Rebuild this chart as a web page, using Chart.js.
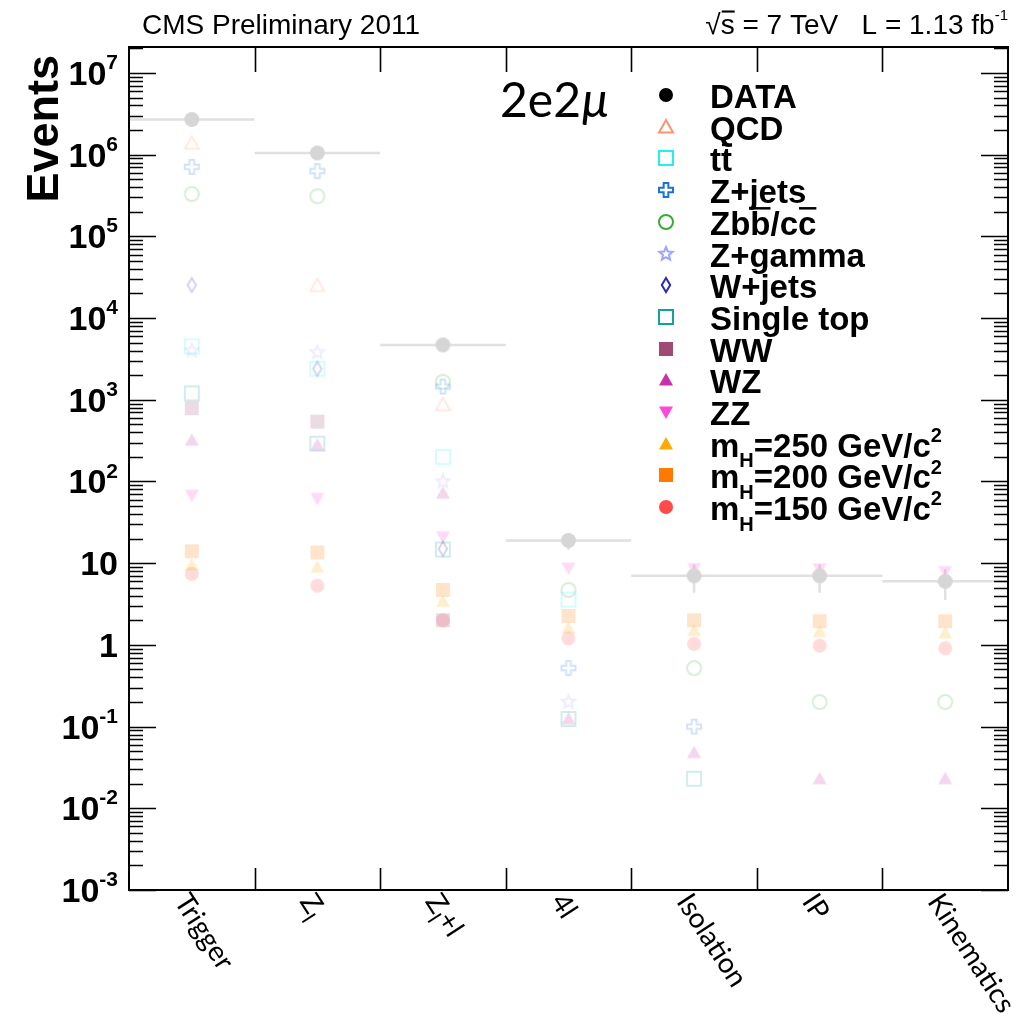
<!DOCTYPE html>
<html>
<head>
<meta charset="utf-8">
<script src="https://cdn.jsdelivr.net/npm/chart.js@4.4.1/dist/chart.umd.min.js"></script>
<style>
  html, body { margin: 0; padding: 0; background: #fff; }
  canvas { display: block; }
</style>
</head>
<body>
<canvas id="chart" width="1026" height="1026"></canvas>
<script>
// ------- Data -------
const categories = ['Trigger', 'Z_{l}', 'Z_{l}+l', '4l', 'Isolation', 'IP', 'Kinematics'];

const dataValues      = [2.7e6, 1.05e6, 4.7e3, 19, 7, 7, 6];
const qcdValues       = [1.38e6, 2.5e4, 870, null, null, null, null];
const ttbarValues     = [4.5e3, 2.4e3, 200, 3.6, null, null, null];
const zjetsValues     = [7.1e5, 6.3e5, 1.45e3, 0.52, 0.1, null, null];
const zbbValues       = [3.3e5, 3.1e5, 1.66e3, 4.7, 0.52, 0.2, 0.2];
const zgammaValues    = [4.0e3, 3.8e3, 100, 0.2, null, null, null];
const wjetsValues     = [2.54e4, 2.4e3, 15, null, null, null, null];
const singleTopValues = [1.2e3, 290, 14.7, 0.124, 0.023, null, null];
const wwValues        = [790, 540, 2.0, null, null, null, null];
const wzValues        = [320, 280, 72, 0.124, 0.048, 0.023, 0.023];
const zzValues        = [68, 62, 21, 8.7, 8.6, 8.5, 7.9];
const mh250Values     = [9.5, 8.9, 3.4, 1.6, 1.5, 1.45, 1.4];
const mh200Values     = [14, 13.5, 4.7, 2.26, 2.0, 1.95, 1.95];
const mh150Values     = [7.4, 5.3, 2.0, 1.2, 1.03, 0.98, 0.91];

const mcNames = ['QCD', 't~{t}', 'Z+jets', 'Zb~{b}/c~{c}', 'Z+gamma', 'W+jets', 'Single top',
  'WW', 'WZ', 'ZZ', 'm_{H}=250 GeV/c^{2}', 'm_{H}=200 GeV/c^{2}', 'm_{H}=150 GeV/c^{2}'];
const mcValues = [qcdValues, ttbarValues, zjetsValues, zbbValues, zgammaValues, wjetsValues,
  singleTopValues, wwValues, wzValues, zzValues, mh250Values, mh200Values, mh150Values];

const yTickValues = [1e-3, 1e-2, 1e-1, 1, 10, 1e2, 1e3, 1e4, 1e5, 1e6, 1e7];
const yTickLabels = ['10^{-3}', '10^{-2}', '10^{-1}', '1', '10', '10^{2}', '10^{3}', '10^{4}', '10^{5}', '10^{6}', '10^{7}'];

// ------- Styles -------
const mcStyles = [
  { shape: 'triangle', color: '#ff9270', filled: false },
  { shape: 'square', color: '#22f0f0', filled: false },
  { shape: 'cross', color: '#1a72dc', filled: false },
  { shape: 'circle', color: '#3aa83a', filled: false },
  { shape: 'star', color: '#a0a6ff', filled: false },
  { shape: 'diamond', color: '#2a2ab4', filled: false },
  { shape: 'square', color: '#14a0a0', filled: false },
  { shape: 'square', color: '#a04a74', filled: true },
  { shape: 'triangle', color: '#c832a8', filled: true },
  { shape: 'triangleDown', color: '#ff48d8', filled: true },
  { shape: 'triangle', color: '#ffaa00', filled: true },
  { shape: 'square', color: '#ff7a00', filled: true },
  { shape: 'circle', color: '#ff4a4a', filled: true }
];
const FADE = 0.2;
const DATA_GREY = '#d6d6d6';
const SANS = '"Liberation Sans", Arial, sans-serif';
const LABEL_FONT = 'Lato, "Open Sans", sans-serif';

function rgba(hex, a) {
  const n = parseInt(hex.slice(1), 16);
  return `rgba(${n >> 16},${(n >> 8) & 255},${n & 255},${a})`;
}

function traceShape(ctx, shape, m, r) {
  ctx.beginPath();
  if (shape === 'circle') {
    ctx.arc(m, m, r, 0, Math.PI * 2);
  } else if (shape === 'square') {
    ctx.rect(m - r, m - r, r * 2, r * 2);
  } else if (shape === 'triangle') {
    ctx.moveTo(m, m - r); ctx.lineTo(m + r, m + r * 0.8); ctx.lineTo(m - r, m + r * 0.8); ctx.closePath();
  } else if (shape === 'triangleDown') {
    ctx.moveTo(m, m + r); ctx.lineTo(m + r, m - r * 0.8); ctx.lineTo(m - r, m - r * 0.8); ctx.closePath();
  } else if (shape === 'diamond') {
    ctx.moveTo(m, m - r); ctx.lineTo(m + r * 0.6, m); ctx.lineTo(m, m + r); ctx.lineTo(m - r * 0.6, m); ctx.closePath();
  } else if (shape === 'cross') {
    const a = r / 3;
    const pts = [[-a, -r], [a, -r], [a, -a], [r, -a], [r, a], [a, a], [a, r], [-a, r], [-a, a], [-r, a], [-r, -a], [-a, -a]];
    pts.forEach(([px, py], i) => i ? ctx.lineTo(m + px, m + py) : ctx.moveTo(m + px, m + py));
    ctx.closePath();
  } else if (shape === 'star') {
    for (let i = 0; i < 10; i++) {
      const rr = i % 2 ? r * 0.45 : r;
      const ang = -Math.PI / 2 + i * Math.PI / 5;
      const px = m + rr * Math.cos(ang), py = m + rr * Math.sin(ang);
      i ? ctx.lineTo(px, py) : ctx.moveTo(px, py);
    }
    ctx.closePath();
  }
}

function makeMarker(style, color, size) {
  const c = document.createElement('canvas');
  c.width = c.height = size + 6;
  const ctx = c.getContext('2d');
  const m = c.width / 2;
  ctx.strokeStyle = color;
  ctx.fillStyle = color;
  ctx.lineWidth = 2;
  traceShape(ctx, style.shape, m, style.filled ? size / 2 : size / 2 - 1);
  style.filled ? ctx.fill() : ctx.stroke();
  return c;
}

// ------- Rich text (sub/superscript, overline) -------
function parseRich(str) {
  const out = [];
  let i = 0, buf = '';
  while (i < str.length) {
    const ch = str[i];
    if ((ch === '_' || ch === '^' || ch === '~') && str[i + 1] === '{') {
      if (buf) { out.push({ text: buf, mode: '' }); buf = ''; }
      const end = str.indexOf('}', i);
      out.push({ text: str.slice(i + 2, end), mode: ch });
      i = end + 1;
    } else { buf += ch; i++; }
  }
  if (buf) out.push({ text: buf, mode: '' });
  return out;
}

function drawRich(ctx, str, x, y, o) {
  const parts = parseRich(str);
  const fontOf = p => {
    const small = p.mode === '_' || p.mode === '^';
    return `${o.style || 'normal'} ${o.weight || 'normal'} ${small ? Math.round(o.size * (o.scale || 0.62)) : o.size}px ${o.family}`;
  };
  let total = 0;
  parts.forEach(p => { ctx.font = fontOf(p); p.w = ctx.measureText(p.text).width; total += p.w; });
  if (o.align === 'right') x -= total;
  ctx.textAlign = 'left';
  ctx.textBaseline = 'alphabetic';
  ctx.fillStyle = o.color || '#000';
  parts.forEach(p => {
    ctx.font = fontOf(p);
    let dy = 0;
    if (p.mode === '_') dy = o.size * (o.sub || 0.3);
    if (p.mode === '^') dy = -o.size * (o.sup || 0.45);
    ctx.fillText(p.text, x, y + dy);
    if (p.mode === '~') {
      ctx.fillRect(x + 1, y - o.size * 0.84, p.w - 1, Math.max(2, o.size * 0.075));
    }
    x += p.w;
  });
  return total;
}

// ------- Datasets -------
function toPoints(values) {
  return values.map((v, i) => v == null ? null : { x: i + 0.5, y: v }).filter(Boolean);
}

const dataStyle = { shape: 'circle', filled: true };
const datasets = [{
  label: 'DATA',
  data: toPoints(dataValues),
  pointStyle: makeMarker(dataStyle, DATA_GREY, 15),
  pointRadius: 7
}];
mcValues.forEach((vals, k) => {
  const st = mcStyles[k];
  datasets.push({
    label: mcNames[k],
    data: toPoints(vals),
    pointStyle: makeMarker(st, rgba(st.color, FADE), st.filled ? 14 : 16),
    pointRadius: 7
  });
});

// ------- ROOT-like frame, labels, legend -------
const rootStyle = {
  id: 'rootStyle',
  beforeDatasetsDraw(chart) {
    const { ctx, scales: { x, y } } = chart;
    ctx.save();
    ctx.strokeStyle = '#e0e0e0';
    ctx.lineWidth = 2.5;
    dataValues.forEach((v, i) => {
      const py = y.getPixelForValue(v);
      const err = Math.sqrt(v);
      ctx.beginPath();
      ctx.moveTo(x.getPixelForValue(i), py);
      ctx.lineTo(x.getPixelForValue(i + 1), py);
      ctx.moveTo(x.getPixelForValue(i + 0.5), y.getPixelForValue(v + err));
      ctx.lineTo(x.getPixelForValue(i + 0.5), y.getPixelForValue(Math.max(v - err, 1e-3)));
      ctx.stroke();
    });
    ctx.restore();
  },
  afterDatasetsDraw(chart) {
    const { ctx, chartArea: a, scales: { x, y } } = chart;
    ctx.save();
    ctx.strokeStyle = '#000';
    ctx.lineWidth = 2;
    ctx.strokeRect(a.left, a.top, a.right - a.left, a.bottom - a.top);

    // log ticks on left and right, pointing inward
    ctx.lineWidth = 1.6;
    ctx.beginPath();
    for (let d = -3; d <= 7; d++) {
      for (let k = 1; k <= 9; k++) {
        const v = k * Math.pow(10, d);
        if (v < y.min || v > y.max) continue;
        const py = Math.round(y.getPixelForValue(v)) + 0.5;
        const len = k === 1 ? 27 : 14;
        ctx.moveTo(a.left, py); ctx.lineTo(a.left + len, py);
        ctx.moveTo(a.right, py); ctx.lineTo(a.right - len, py);
      }
    }
    // bin edges top and bottom
    for (let i = 1; i < categories.length; i++) {
      const px = Math.round(x.getPixelForValue(i)) + 0.5;
      ctx.moveTo(px, a.top); ctx.lineTo(px, a.top + 25);
      ctx.moveTo(px, a.bottom); ctx.lineTo(px, a.bottom - 22);
    }
    ctx.stroke();

    // y tick labels
    yTickValues.forEach((v, i) => {
      drawRich(ctx, yTickLabels[i], a.left - 11, y.getPixelForValue(v) + 12,
        { size: 34, weight: 'bold', family: SANS, align: 'right', scale: 0.62, sup: 0.47 });
    });

    // x category labels, rotated down-right
    categories.forEach((c, i) => {
      ctx.save();
      ctx.translate(x.getPixelForValue(i + 0.5) - 10, a.bottom + 6);
      ctx.rotate(57 * Math.PI / 180);
      drawRich(ctx, c, 0, 10, { size: 28, family: LABEL_FONT, scale: 0.75, sub: 0.3 });
      ctx.restore();
    });

    // axis title
    ctx.save();
    ctx.translate(58, 55);
    ctx.rotate(-Math.PI / 2);
    ctx.font = `bold 45px ${SANS}`;
    ctx.textAlign = 'right';
    ctx.textBaseline = 'alphabetic';
    ctx.fillStyle = '#000';
    ctx.fillText('Events', 0, 0);
    ctx.restore();

    // header
    drawRich(ctx, 'CMS Preliminary 2011', 142, 34, { size: 28, family: SANS });
    drawRich(ctx, '\u221A~{s} = 7 TeV   L = 1.13 fb^{-1}', 1008, 34,
      { size: 28, family: SANS, align: 'right', scale: 0.55, sup: 0.5 });

    // channel tag
    ctx.fillStyle = '#000';
    ctx.textAlign = 'left';
    ctx.font = `48px ${LABEL_FONT}`;
    ctx.fillText('2e2', 500, 117);
    const w = ctx.measureText('2e2').width;
    ctx.font = `italic 48px ${LABEL_FONT}`;
    ctx.fillText('\u03BC', 500 + w + 1, 117);

    // legend
    const rows = [{ name: 'DATA', style: dataStyle, color: '#000', size: 14 }]
      .concat(mcNames.map((n, k) => ({ name: n, style: mcStyles[k], color: mcStyles[k].color, size: mcStyles[k].filled ? 14 : 16 })));
    rows.forEach((r, k) => {
      const cy = 95 + k * 31.7;
      const mk = makeMarker(r.style, r.color, r.size);
      ctx.drawImage(mk, Math.round(666 - mk.width / 2), Math.round(cy - mk.height / 2));
      drawRich(ctx, r.name, 710, cy + 13, { size: 33, weight: 'bold', family: SANS, scale: 0.62, sub: 0.32, sup: 0.45 });
    });
    ctx.restore();
  }
};

new Chart(document.getElementById('chart'), {
  type: 'scatter',
  data: { datasets },
  options: {
    responsive: false,
    animation: false,
    layout: { padding: { left: 129, top: 47, right: 18, bottom: 136 } },
    plugins: { legend: { display: false }, tooltip: { enabled: false } },
    scales: {
      x: { type: 'linear', min: 0, max: 7, display: false },
      y: { type: 'logarithmic', min: 1e-3, max: 2.08e7, display: false }
    }
  },
  plugins: [rootStyle]
});
</script>
</body>
</html>
